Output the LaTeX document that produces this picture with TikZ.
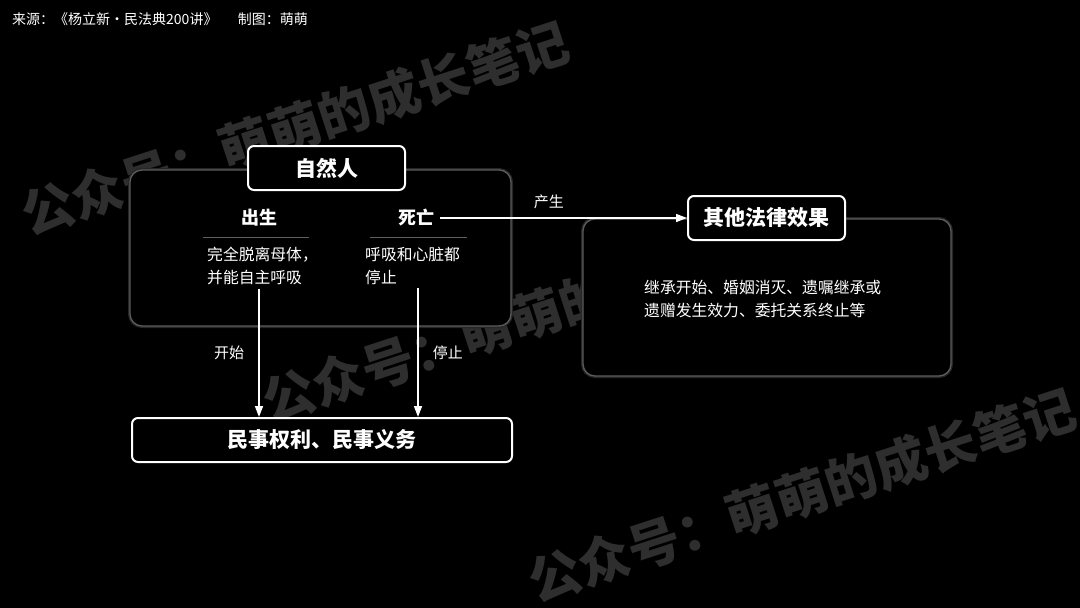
\documentclass[tikz,border=0pt]{standalone}
\usepackage{fontspec}
\setmainfont{Noto Sans CJK SC}
\usetikzlibrary{arrows.meta,positioning,calc}
\definecolor{pagebg}{HTML}{000000}
\definecolor{panelline}{HTML}{5C5C5C}
\definecolor{panelglow}{HTML}{262626}
\definecolor{ruleline}{HTML}{5E5E5E}
\definecolor{wmgray}{HTML}{2E2E2E}
\tikzset{
  titlebox/.style={rectangle,rounded corners=6pt,minimum width=#1,minimum height=44pt,
    draw=white,fill=black,text=white,line width=2pt,inner sep=0pt,
    font=\fontsize{21pt}{25pt}\selectfont\bfseries},
  titlebox/.default={157pt},
  panel/.style={rounded corners=12pt,fill=black,draw=panelline,line width=1.3pt,
    preaction={draw=panelglow,line width=4pt}},
  head/.style={text=white,inner sep=0pt,font=\fontsize{18pt}{22pt}\selectfont\bfseries},
  body/.style={text=white,inner sep=2pt,align=left,anchor=north west,
    font=\fontsize{15.8pt}{22.5pt}\selectfont},
  lbl/.style={text=white,inner sep=0pt,font=\fontsize{15pt}{18pt}\selectfont},
  hdr/.style={text=white,inner sep=0pt,anchor=west,font=\fontsize{14pt}{16pt}\selectfont},
  wmark/.style={text=wmgray,inner sep=0pt,rotate=18,font=\fontsize{52pt}{56pt}\selectfont\bfseries},
  arr/.style={-{Stealth[length=11pt,width=8pt,inset=0pt]},draw=white,line width=1.6pt},
  rule/.style={draw=ruleline,line width=0.8pt},
}
\begin{document}
\begin{tikzpicture}[x=1pt,y=-1pt]
  \fill[pagebg] (0,0) rectangle (1080,608);
  \useasboundingbox (0,0) rectangle (1080,608);
  % watermarks
  \node[wmark] (wmA) at (295,128) {公众号：萌萌的成长笔记};
  \node[wmark] (wmB) at (536,315) {公众号：萌萌的成长笔记};
  \node[wmark] (wmC) at (802,495) {公众号：萌萌的成长笔记};
  % source line
  \node[hdr] (src) at (12,19) {来源：《杨立新・民法典200讲》};
  \node[hdr,right=20pt of src] (maker) {制图：萌萌};
  % panels
  \draw[panel] (130,170) rectangle (511,326);
  \draw[panel] (583,219) rectangle (951,376);
  % natural person
  \node[titlebox] (person) at (326.5,168) {自然人};
  \node[head] (birth) at (259,218) {出生};
  \node[head] (death) at (416,218) {死亡};
  \draw[rule] (203,237) -- (309,237);
  \draw[rule] (370,237) -- (467,237);
  \node[body] (birthtxt) at (205,245) {完全脱离母体，\\并能自主呼吸};
  \node[body] (deathtxt) at (363,245) {呼吸和心脏都\\停止};
  % other legal effects
  \node[titlebox] (effect) at (766.5,218) {其他法律效果};
  \node[body,anchor=west] (effecttxt) at (642,299) {继承开始、婚姻消灭、遗嘱继承或\\遗赠发生效力、委托关系终止等};
  % civil rights and duties
  \node[titlebox=380pt] (rights) at (322,440) {民事权利、民事义务};
  % connectors
  \draw[arr] (death.east) ++(6,0) coordinate (deathout) -- (effect.west)
    node[lbl,pos=0.44,above=8pt] {产生};
  \draw[arr] (birthtxt.south -| birth) ++(0,2) -- (rights.north -| birth)
    node[lbl,midway,left=14pt] {开始};
  \draw[arr] (deathtxt.south -| death) ++(2,2) -- ($(rights.north -| death)+(2,0)$)
    node[lbl,midway,right=14pt] {停止};
\end{tikzpicture}
\end{document}
